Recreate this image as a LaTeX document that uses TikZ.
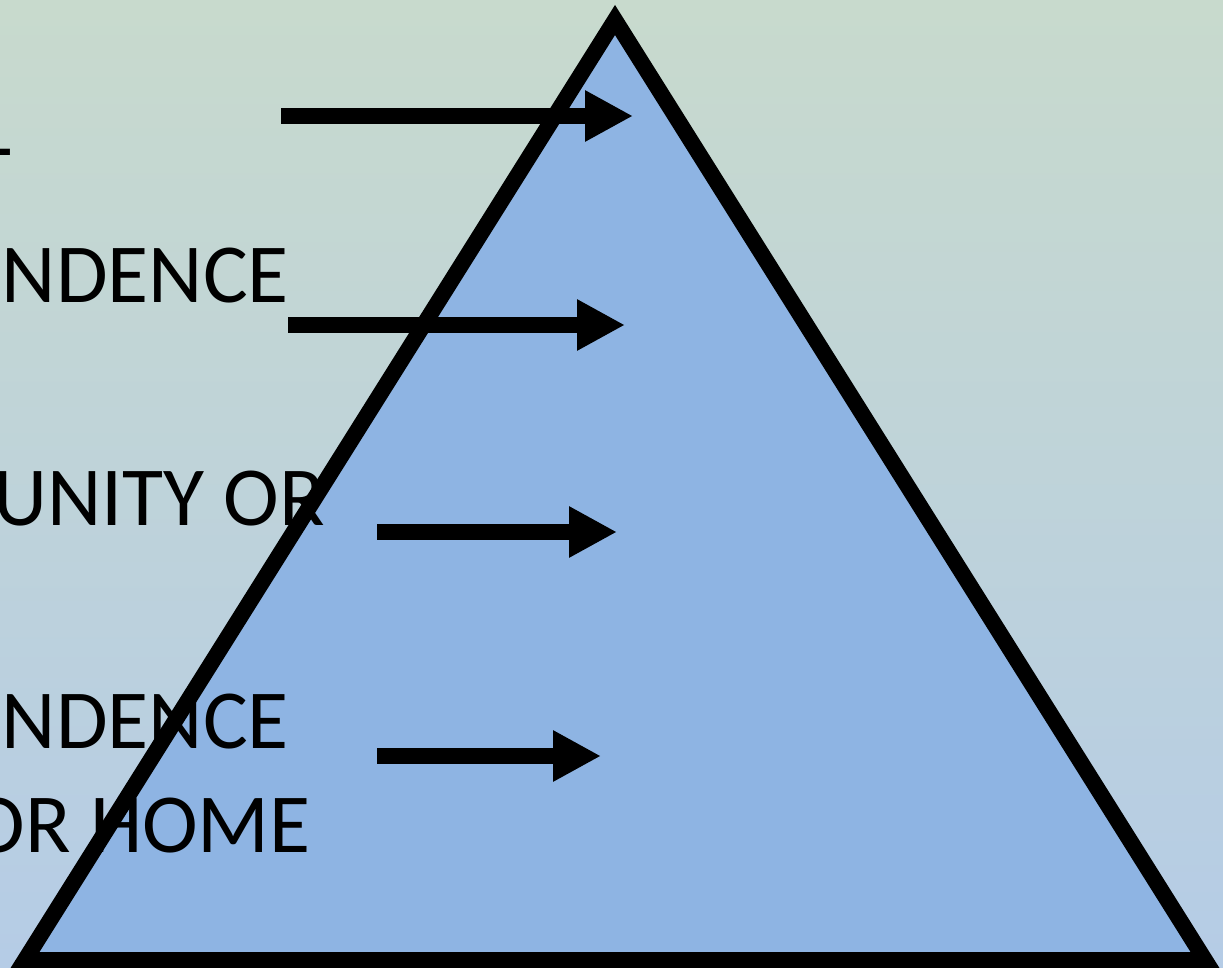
\documentclass[tikz,border=0pt]{standalone}
\usepackage{fontspec}
\setmainfont{Carlito}
\usetikzlibrary{arrows.meta}
\definecolor{bgtop}{RGB}{200,218,205}
\definecolor{bgbot}{RGB}{181,204,230}
\definecolor{trifill}{RGB}{142,180,227}
\tikzset{
  lbl/.style={anchor=base east, inner sep=0pt, font=\fontsize{84}{102}\selectfont, text=black},
  bigarrow/.style={line width=16pt, -{Triangle[length=48pt,width=48pt]}, draw=black}
}
\begin{document}
\begin{tikzpicture}[x=1pt,y=-1pt]
\useasboundingbox (0,0) rectangle (1223,968);
\shade[top color=bgtop, bottom color=bgbot] (0,0) rectangle (1223,968);
% pyramid
\draw[line width=16pt, line join=miter, fill=trifill] (615,20) -- (25,960) -- (1205,960) -- cycle;
% labels (cut off at left edge)
\node[lbl] (t1) at (12,156) {L};
\node[lbl] (t2) at (289,302) {NDENCE};
\node[lbl] (t3) at (325,525) {UNITY OR};
\node[lbl] (t4) at (289,748) {NDENCE};
\node[lbl] (t5) at (311,852) {OR HOME};
% arrows
\coordinate (a1s) at (281,116); \coordinate (a1e) at (633,116);
\coordinate (a2s) at (288,325); \coordinate (a2e) at (625,325);
\coordinate (a3s) at (377,532); \coordinate (a3e) at (617,532);
\coordinate (a4s) at (377,756); \coordinate (a4e) at (601,756);
\draw[bigarrow] (a1s) -- (a1e);
\draw[bigarrow] (a2s) -- (a2e);
\draw[bigarrow] (a3s) -- (a3e);
\draw[bigarrow] (a4s) -- (a4e);
\end{tikzpicture}
\end{document}
